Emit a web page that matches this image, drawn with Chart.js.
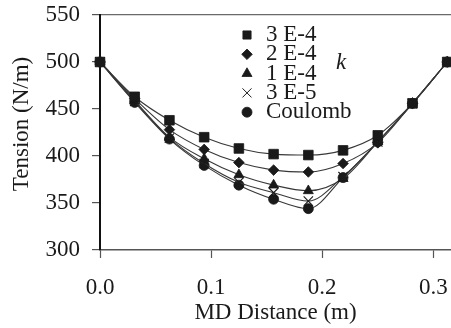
<!DOCTYPE html>
<html>
<head>
<meta charset="utf-8">
<script src="https://cdn.jsdelivr.net/npm/chart.js@4/dist/chart.umd.min.js"></script>
<style>
  html, body { margin: 0; padding: 0; background: #ffffff; }
  #chart { display: block; }
</style>
</head>
<body>
<canvas id="chart" width="451" height="328"></canvas>
<script>
// Machine-direction position of each node (m)
const mdDistance = [0, 0.03125, 0.0625, 0.09375, 0.125, 0.15625, 0.1875, 0.21875, 0.25, 0.28125, 0.3125];

// Web tension (N/m) for each friction coefficient k
const tensionK3e4 = [500, 463, 438, 420, 408, 402, 401, 406, 422, 456, 500];
const tensionK2e4 = [500, 461, 428, 407, 393, 385, 383, 392, 414, 456, 500];
const tensionK1e4 = [500, 459, 420, 397, 380, 369, 363, 376, 415, 456, 500];
const tensionK3e5 = [500, 458, 419, 392, 372, 361, 352, 378, 415, 456, 500];
const tensionCoulomb = [500, 457, 418, 390, 369, 354, 344, 377, 415, 456, 500];

const seriesLabels = ['3 E-4', '2 E-4', '1 E-4', '3 E-5', 'Coulomb'];
const seriesValues = [tensionK3e4, tensionK2e4, tensionK1e4, tensionK3e5, tensionCoulomb];

const yTicks = [300, 350, 400, 450, 500, 550];
const xTicks = [0.0, 0.1, 0.2, 0.3];

const FONT = "'Liberation Serif', 'Times New Roman', Times, serif";
const INK = '#1a1a1a';
const LINE = '#383838';

const markers = [
  { pointStyle: 'rect', radius: 6.8 },
  { pointStyle: 'rectRot', radius: 5.3 },
  { pointStyle: 'triangle', radius: 5.8 },
  { pointStyle: 'crossRot', radius: 6.6 },
  { pointStyle: 'circle', radius: 5 }
];

const datasets = seriesValues.map((vals, i) => ({
  label: seriesLabels[i],
  data: mdDistance.map((x, j) => ({ x: x, y: vals[j] })),
  borderColor: LINE,
  borderWidth: 1.1,
  cubicInterpolationMode: 'monotone',
  pointStyle: markers[i].pointStyle,
  pointRadius: markers[i].radius,
  pointBackgroundColor: INK,
  pointBorderColor: INK,
  pointBorderWidth: markers[i].pointStyle === 'crossRot' ? 1.1 : 0.8,
  fill: false,
  clip: false
}));

// Legend drawn inside the plot, the "k" caption beside it, and the rotated y title
const annotations = {
  id: 'annotations',
  afterDraw(chart) {
    const ctx = chart.ctx;
    const mx = 247, tx = 266, y0 = 35, dy = 19.3;
    ctx.save();
    ctx.font = '23px ' + FONT;
    ctx.textBaseline = 'middle';
    ctx.textAlign = 'left';
    chart.data.datasets.forEach((ds, i) => {
      const y = y0 + i * dy;
      ctx.fillStyle = INK;
      ctx.strokeStyle = INK;
      ctx.lineWidth = ds.pointStyle === 'crossRot' ? 1 : 0.8;
      const r = ds.pointStyle === 'rect' ? 5.8 : ds.pointStyle === 'crossRot' ? 6.4 : ds.pointRadius;
      Chart.helpers.drawPoint(ctx, { pointStyle: ds.pointStyle, radius: r, rotation: 0, borderWidth: ctx.lineWidth }, mx, y);
      ctx.fillStyle = INK;
      ctx.fillText(ds.label, tx, y);
    });
    ctx.font = 'italic 23px ' + FONT;
    ctx.fillText('k', 336, 63);

    ctx.font = '23px ' + FONT;
    ctx.textAlign = 'center';
    ctx.translate(22, 124);
    ctx.rotate(-Math.PI / 2);
    ctx.fillText('Tension (N/m)', 0, 0);
    ctx.restore();
  }
};

new Chart(document.getElementById('chart'), {
  type: 'line',
  data: { datasets: datasets },
  plugins: [annotations],
  options: {
    responsive: false,
    animation: false,
    layout: { autoPadding: false, padding: { top: 15, right: 0, bottom: 0, left: 0 } },
    plugins: {
      legend: { display: false },
      tooltip: { enabled: false }
    },
    scales: {
      x: {
        type: 'linear',
        min: 0,
        max: 0.3159,
        afterFit(scale) {
          scale.height = 78;
          scale.paddingLeft = 0;
          scale.paddingRight = 0;
        },
        afterBuildTicks(scale) { scale.ticks = xTicks.map(v => ({ value: v })); },
        border: { color: '#555555', width: 1.4 },
        grid: { drawOnChartArea: false, tickLength: 8, tickColor: '#555555', tickWidth: 1.2 },
        ticks: {
          padding: 16,
          color: INK,
          font: { family: FONT, size: 23 },
          maxRotation: 0,
          callback: v => Number(v).toFixed(1)
        },
        title: {
          display: true,
          text: 'MD Distance (m)',
          color: INK,
          font: { family: FONT, size: 23 },
          padding: { top: 0, bottom: 1 }
        }
      },
      y: {
        min: 300,
        max: 550,
        afterFit(scale) {
          scale.width = 100;
          scale.paddingTop = 0;
          scale.paddingBottom = 0;
        },
        afterBuildTicks(scale) { scale.ticks = yTicks.map(v => ({ value: v })); },
        border: { color: '#111111', width: 2 },
        grid: {
          color: c => (c.tick && c.tick.value === 550 ? '#6a6a6a' : 'rgba(0,0,0,0)'),
          lineWidth: 1.2,
          tickLength: 8,
          tickColor: '#555555',
          tickWidth: 1.2
        },
        ticks: {
          padding: 12,
          color: INK,
          font: { family: FONT, size: 23 }
        },
        title: { display: false }
      }
    }
  }
});
</script>
</body>
</html>
